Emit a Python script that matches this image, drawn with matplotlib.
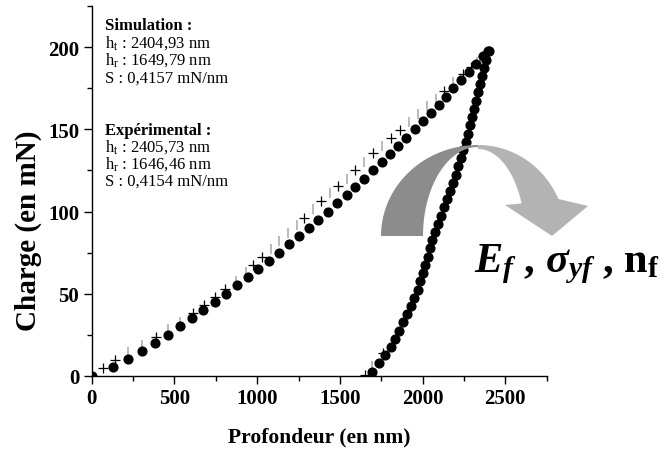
import matplotlib
matplotlib.use("Agg")
import matplotlib.pyplot as plt
from matplotlib.patches import Polygon
from matplotlib.ticker import MultipleLocator
import numpy as np

plt.rcParams['font.family'] = ['Liberation Serif', 'DejaVu Serif']
plt.rcParams['mathtext.fontset'] = 'custom'
plt.rcParams['mathtext.rm'] = 'Liberation Serif'
plt.rcParams['mathtext.it'] = 'Liberation Serif:italic:bold'
plt.rcParams['mathtext.bf'] = 'Liberation Serif:bold'

# Simulated indentation curve (depth in nm, load in mN)
sim_load_depth = [0, 127, 221, 302, 385, 459, 532, 605, 675, 744, 810, 877, 943,
                  1007, 1070, 1132, 1193, 1253, 1312, 1368, 1429, 1485, 1542,
                  1594, 1648, 1701, 1753, 1804, 1854, 1902, 1953, 2001, 2050,
                  2098, 2142, 2186, 2233, 2279, 2324, 2364, 2400]
sim_load_force = [0, 5, 10, 15, 20, 25, 30, 35, 40, 45, 50, 55, 60, 65, 70, 75,
                  80, 85, 90, 95, 100, 105, 110, 115, 120, 125, 130, 135, 140,
                  145, 150, 155, 160, 165, 170, 175, 180, 185, 190, 195, 198]
sim_unload_depth = [2396, 2384, 2374, 2360, 2348, 2336, 2324, 2311, 2299, 2287,
                    2275, 2262, 2247, 2232, 2216, 2200, 2183, 2165, 2147, 2128,
                    2110, 2090, 2074, 2059, 2045, 2031, 2017, 2001, 1987, 1971,
                    1949, 1929, 1908, 1884, 1860, 1836, 1808, 1773, 1739, 1693]
sim_unload_force = [197.5, 192.5, 187.5, 182.5, 177.5, 172.5, 167.5, 162.5,
                    157.5, 152.5, 147.5, 142.5, 137.5, 132.5, 127.5, 122.5,
                    117.5, 112.5, 107.5, 102.5, 97.5, 92.5, 87.5, 82.5, 77.5,
                    72.5, 67.5, 62.5, 57.5, 52.5, 47.5, 42.5, 37.5, 32.5, 27.5,
                    22.5, 17.5, 12.5, 7.5, 2.5]

# Experimental points (crosses and faint vertical strokes)
exp_cross_depth = [68, 140, 388, 614, 680, 745, 808, 977, 1028, 1285, 1386, 1491,
                   1593, 1699, 1810, 1864, 2131, 2243, 2291, 2364, 1650, 1762]
exp_cross_force = [4.5, 9.7, 23.7, 38, 43.1, 47.8, 52.9, 67.5, 72.2, 96.2, 106.5,
                   115.5, 125, 135.4, 144.8, 149.6, 173.4, 183.5, 188.3, 195, 0.5, 14]
exp_bar_depth = [220, 303, 462, 532, 871, 935, 1082, 1134, 1185, 1239, 1338, 1439,
                 1545, 1648, 1753, 1920, 1975, 2025, 2082, 2186, 2330, 1697]
exp_bar_force = [14.7, 19, 28.5, 32.9, 57.9, 63, 77.3, 82, 86.8, 91.5, 101.6, 111,
                 120, 130, 140, 154.7, 159.3, 164.3, 168.7, 179, 191, 6]

x_ticks = [0, 500, 1000, 1500, 2000, 2500]
y_ticks = [0, 50, 100, 150, 200]

W, H = 667, 452
fig = plt.figure(figsize=(W / 100, H / 100), dpi=100)
ax = fig.add_axes([91.7 / W, 1 - 376.7 / H, 455 / W, 369.4 / H])
ax.set_facecolor('none')


def fpt(x, y):
    return (x / W, 1 - y / H)


# curved arrow behind the data
def ell(cx, cy, rx, ry, a0, a1, n=40):
    t = np.radians(np.linspace(a0, a1, n))
    return [(cx + rx * np.cos(s), cy - ry * np.sin(s)) for s in t]


dark = ell(478, 237, 97, 91, 180, 90) + ell(478, 237, 55, 89, 90, 180)
light = (ell(478, 237, 88, 91, 90, 24) +
         [(588, 207), (552, 237), (505, 206)] +
         ell(478, 237, 47, 87, 22, 90))
for pts, col in ((dark, '#8c8c8c'), (light, '#b3b3b3')):
    poly = Polygon([fpt(*p) for p in pts], closed=True, transform=fig.transFigure,
                   facecolor=col, edgecolor='none', zorder=0)
    fig.patches.append(poly)

ax.plot(exp_bar_depth, exp_bar_force, linestyle='none', marker='|', markersize=7,
        markeredgewidth=1.1, color='#a8a8a8', zorder=2)
ax.plot(exp_cross_depth, exp_cross_force, linestyle='none', marker='+', markersize=7,
        markeredgewidth=0.9, color='black', zorder=2)
ax.plot(sim_load_depth, sim_load_force, linestyle='none', marker='o', markersize=6.3,
        color='black', zorder=3)
ax.plot(sim_unload_depth, sim_unload_force, linestyle='none', marker='o',
        markersize=6.3, color='black', zorder=3)

ax.set_xlim(0, 2750)
ax.set_ylim(0, 225)
ax.set_xticks(x_ticks)
ax.set_yticks(y_ticks)
ax.xaxis.set_minor_locator(MultipleLocator(250))
ax.yaxis.set_minor_locator(MultipleLocator(25))
for s in ('top', 'right'):
    ax.spines[s].set_visible(False)
for s in ('left', 'bottom'):
    ax.spines[s].set_linewidth(1.0)
ax.tick_params(which='major', length=6, width=1.0, direction='out', pad=3,
               labelsize=15)
ax.tick_params(which='minor', length=3.5, width=1.0, direction='out')
for lab in ax.get_xticklabels() + ax.get_yticklabels():
    lab.set_fontweight('bold')

ax.set_xlabel('Profondeur (en nm)', fontsize=15.5, fontweight='bold')
ax.set_ylabel('Charge (en mN)', fontsize=21, fontweight='bold')
ax.xaxis.label.set_va('center')
ax.yaxis.label.set_va('center')
ax.xaxis.set_label_coords(0.5, (376.7 - 437) / 369.4)
ax.yaxis.set_label_coords((28 - 91.7) / 455, (376.7 - 231) / 369.4)

# parameter boxes
lines = [
    (30, 'Simulation :', 'bold'),
    (48, r'h$_\mathrm{t}$ : 2404,93 nm', 'normal'),
    (65, r'h$_\mathrm{r}$ : 1649,79 nm', 'normal'),
    (83, 'S : 0,4157 mN/nm', 'normal'),
    (135, 'Expérimental :', 'bold'),
    (152, r'h$_\mathrm{t}$ : 2405,73 nm', 'normal'),
    (169, r'h$_\mathrm{r}$ : 1646,46 nm', 'normal'),
    (186, 'S : 0,4154 mN/nm', 'normal'),
]
for yb, txt, wt in lines:
    fig.text(*fpt(105, yb), txt, fontsize=12, fontweight=wt, ha='left',
             va='baseline')

fig.text(*fpt(474, 272), r'$E_f$ , $\sigma_{yf}$ , $\mathbf{n}_\mathbf{f}$',
         fontsize=30.5, fontweight='bold', ha='left', va='baseline')

fig.savefig('out.png', dpi=100)
